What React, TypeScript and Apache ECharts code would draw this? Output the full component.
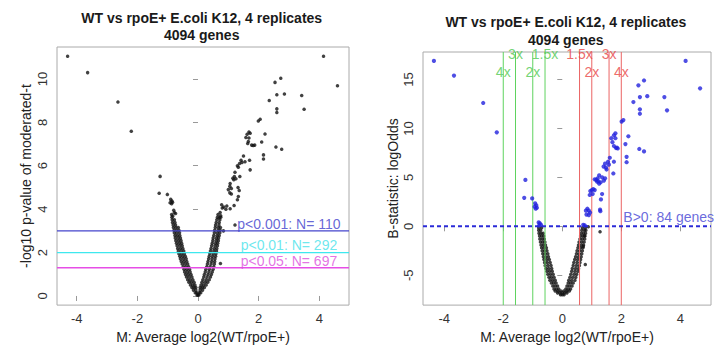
import React, { useEffect, useRef } from "react";
import * as echarts from "echarts";

const FONT = "'Liberation Sans', Arial, Helvetica, sans-serif";

// ---- axis ticks / texts ----
const xTicks = [-4, -2, 0, 2, 4];
const leftYTicks = [0, 2, 4, 6, 8, 10];
const rightYTicks = [-5, 0, 5, 10, 15];
const titleLine1 = "WT vs rpoE+ E.coli K12, 4 replicates";
const titleLine2 = "4094 genes";
const xName = "M: Average log2(WT/rpoE+)";
const leftYName = "-log10 p-value of moderated-t";
const rightYName = "B-statistic: logOdds";

// ---- p-value threshold lines (left panel) ----
const pThresholds = ["0.001", "0.01", "0.05"];
const pCounts = [110, 292, 697];
const pLevels = [3, 2, 1.301];
const pLabelM = 3.0;
const pLabelY = [3.33, 2.33, 1.62];
const pLineColors = ["#4545cc", "#3ee8ee", "#e64ee6"];
const pTextColors = ["#4040cc", "#48e2ea", "#dc50dc"];

// ---- fold-change lines (right panel) ----
const foldLabels = ["1.5x", "2x", "3x", "4x"];
const foldM = [0.585, 1, 1.585, 2];
const foldLabelB = [17.6, 15.8, 17.6, 15.8];
const bPositiveCount = 84;
const bLabelM = 2.07;
const bLabelB = 0.95;

// axis ranges
const leftXRange = [-4.65, 4.98];
const rightXRange = [-4.72, 5.04];
const leftYRange = [-0.42, 11.47];
const rightYRange = [-8.05, 17.81];

// ---- left panel: outlying genes [M, -log10 p] ----
const leftOutliers: number[][] = [
  [-4.3, 11.04], [-3.64, 10.29], [-2.64, 8.94], [-2.2, 7.59], [-1.25, 5.51],
  [-1.28, 4.73], [-1.01, 4.68], [-0.9, 4.45], [-0.86, 4.38], [-0.92, 4.3],
  [-0.87, 4.25], [-0.84, 4.32], [-0.8, 3.95], [-0.78, 3.85], [-0.74, 3.8], [-0.83, 3.68],
  [4.14, 11.04], [4.6, 9.68], [2.73, 10.03], [2.54, 9.84], [2.6, 9.27], [2.85, 9.3],
  [3.42, 9.24], [2.35, 9.01], [2.6, 8.62], [2.6, 8.45], [3.5, 8.6], [1.99, 8.06],
  [2.05, 8.14], [1.68, 7.55], [1.62, 7.45], [1.58, 7.3], [1.68, 7.28], [1.72, 7.5],
  [1.66, 7.12], [1.64, 7.02], [2.21, 7.46], [1.77, 6.95], [1.82, 6.93], [1.87, 6.95],
  [2.1, 7.09], [2.57, 6.86], [2.76, 6.76], [1.5, 6.45], [1.42, 6.25], [1.37, 6.1],
  [1.3, 6.0], [1.33, 5.93], [1.45, 6.15], [1.55, 6.18], [1.7, 6.25], [2.16, 6.5],
  [2.16, 6.31], [1.72, 5.81], [1.2, 5.5], [1.15, 5.42], [1.25, 5.4], [1.18, 5.35],
  [1.22, 5.7], [1.38, 5.5], [1.05, 5.05], [1.0, 4.9], [1.1, 4.95], [1.05, 4.75],
  [1.1, 4.7], [1.06, 5.18], [1.32, 5.0], [1.36, 4.86], [1.33, 4.58], [1.3, 4.43],
  [0.8, 4.05], [0.85, 4.1], [0.92, 4.0], [0.95, 4.15], [0.78, 4.2], [1.19, 4.17],
  [1.06, 4.02], [0.73, 3.85], [0.7, 3.6], [0.75, 3.7], [0.84, 3.0], [1.22, 3.27],
  [0.74, 1.5],
];

// ---- left panel: dense V core, rows of [-log10 p, M values] ----
const leftCoreRows: [number, number[]][] = [
  [0.05, [-0.03, 0, 0.03]],
  [0.15, [-0.09, -0.04, 0.04, 0.09]],
  [0.27, [-0.15, -0.07, 0.07, 0.15]],
  [0.39, [-0.2, -0.13, -0.07, 0.07, 0.14, 0.21]],
  [0.51, [-0.25, -0.17, -0.1, 0.1, 0.18, 0.27]],
  [0.63, [-0.3, -0.22, -0.13, 0.13, 0.23, 0.32]],
  [0.75, [-0.34, -0.26, -0.17, 0.16, 0.27, 0.37]],
  [0.87, [-0.38, -0.29, -0.2, 0.19, 0.3, 0.41]],
  [0.99, [-0.41, -0.32, -0.23, 0.21, 0.33, 0.44]],
  [1.11, [-0.44, -0.35, -0.26, 0.24, 0.36, 0.47]],
  [1.23, [-0.46, -0.37, -0.28, 0.26, 0.38, 0.5]],
  [1.35, [-0.49, -0.4, -0.31, 0.29, 0.4, 0.52]],
  [1.47, [-0.52, -0.43, -0.34, 0.31, 0.43, 0.54]],
  [1.59, [-0.55, -0.46, -0.37, 0.33, 0.45, 0.55]],
  [1.71, [-0.58, -0.48, -0.39, 0.35, 0.46, 0.56]],
  [1.83, [-0.6, -0.51, -0.42, 0.37, 0.48, 0.58]],
  [1.95, [-0.63, -0.54, -0.45, 0.39, 0.5, 0.59]],
  [2.07, [-0.65, -0.56, -0.47, 0.41, 0.52, 0.61]],
  [2.19, [-0.67, -0.58, -0.5, 0.43, 0.54, 0.62]],
  [2.31, [-0.69, -0.6, -0.52, 0.45, 0.56, 0.64]],
  [2.43, [-0.71, -0.62, -0.54, 0.47, 0.58, 0.65]],
  [2.55, [-0.73, -0.64, -0.56, 0.49, 0.6, 0.67]],
  [2.67, [-0.75, -0.66, -0.58, 0.5, 0.61, 0.68]],
  [2.79, [-0.76, -0.68, -0.6, 0.52, 0.63, 0.7]],
  [2.91, [-0.78, -0.7, -0.61, 0.54, 0.64, 0.72]],
  [3.03, [-0.79, -0.71, -0.63, 0.55, 0.66, 0.73]],
  [3.15, [-0.81, -0.73, -0.65, 0.57, 0.67, 0.74]],
  [3.27, [-0.82, -0.74, 0.58, 0.69]],
  [3.39, [-0.84, -0.76, 0.6, 0.7]],
  [3.51, [-0.85, -0.78, 0.62, 0.72]],
  [3.63, [-0.86, 0.64, 0.75]],
  [3.75, [-0.87, 0.66]],
];

// ---- right panel: genes with B > 0 [M, B] ----
const rightBlue: number[][] = [
  [-4.35, 16.9], [-3.67, 15.4], [-2.68, 12.6], [-2.22, 9.6], [-1.25, 4.74],
  [-1.29, 2.91], [-1.02, 2.85], [-0.92, 2.35], [-0.88, 2.15], [-0.94, 2.0],
  [-0.86, 1.9], [-0.9, 1.8], [-0.8, 0.4], [-0.76, 0.3], [-0.72, 0.15], [-0.78, 0.1],
  [4.18, 16.9], [4.67, 14.1], [2.77, 14.9], [2.58, 14.4], [2.63, 13.2], [2.88, 13.3],
  [3.46, 13.2], [2.41, 12.7], [2.63, 11.95], [2.63, 11.5], [3.55, 11.85], [2.07, 10.85],
  [2.01, 10.7], [1.8, 9.5], [1.75, 9.3], [1.66, 9.0], [1.8, 9.0], [1.7, 8.6],
  [1.75, 8.2], [1.82, 8.0], [1.88, 7.95], [1.85, 8.05], [2.24, 9.2], [2.14, 8.4],
  [2.61, 7.9], [2.77, 7.65], [1.61, 7.0], [1.55, 6.6], [1.45, 6.4], [1.4, 6.1],
  [1.48, 6.0], [1.58, 6.3], [1.5, 5.8], [1.75, 6.6], [2.18, 7.1], [2.18, 6.55],
  [1.73, 5.4], [1.25, 5.2], [1.35, 5.0], [1.2, 4.9], [1.3, 4.5], [1.25, 4.35],
  [1.22, 4.6], [1.1, 3.7], [1.05, 3.8], [1.45, 4.9], [1.15, 4.75], [1.18, 4.55],
  [1.41, 4.67], [1.1, 4.8], [0.95, 3.6], [1.0, 3.7], [0.93, 3.2], [1.03, 3.3],
  [1.35, 3.3], [1.31, 2.75], [0.85, 1.8], [0.8, 1.6], [0.9, 1.6], [0.94, 1.4],
  [0.82, 1.2], [0.9, 1.15], [1.28, 1.7], [1.29, 1.55], [0.71, 0.15], [0.76, 0.1],
];

// ---- right panel: other genes outside the core [M, B] ----
const rightBlackExtra: number[][] = [
  [0.88, -0.05], [1.28, -0.56], [0.71, -2.05], [0.78, -3.9], [0.8, -0.4], [0.75, -1.0],
];

// ---- right panel: dense U core, rows of [B, M values] ----
const rightCoreRows: [number, number[]][] = [
  [-7.0, [-0.06, 0, 0.06]],
  [-6.8, [-0.16, -0.08, 0, 0.08, 0.16]],
  [-6.6, [-0.24, -0.15, -0.05, 0.05, 0.15, 0.24]],
  [-6.4, [-0.28, -0.2, -0.12, 0.12, 0.2, 0.28]],
  [-6.1, [-0.32, -0.24, -0.16, 0.16, 0.24, 0.33]],
  [-5.8, [-0.37, -0.29, -0.21, 0.2, 0.28, 0.37]],
  [-5.5, [-0.42, -0.33, -0.24, 0.22, 0.32, 0.43]],
  [-5.2, [-0.45, -0.37, -0.28, 0.26, 0.36, 0.46]],
  [-4.9, [-0.49, -0.4, -0.31, 0.29, 0.4, 0.49]],
  [-4.6, [-0.52, -0.43, -0.34, 0.32, 0.43, 0.53]],
  [-4.3, [-0.55, -0.46, -0.36, 0.34, 0.45, 0.55]],
  [-4.0, [-0.58, -0.48, -0.38, 0.37, 0.48, 0.58]],
  [-3.7, [-0.6, -0.51, -0.41, 0.39, 0.5, 0.6]],
  [-3.4, [-0.62, -0.53, -0.44, 0.42, 0.52, 0.62]],
  [-3.1, [-0.64, -0.56, -0.47, 0.45, 0.55, 0.64]],
  [-2.8, [-0.66, -0.58, -0.49, 0.48, 0.57, 0.66]],
  [-2.5, [-0.68, -0.6, -0.52, 0.5, 0.59, 0.68]],
  [-2.2, [-0.7, -0.62, -0.54, 0.53, 0.62, 0.7]],
  [-1.9, [-0.72, -0.64, -0.57, 0.55, 0.64, 0.72]],
  [-1.6, [-0.74, -0.66, -0.59, 0.57, 0.66, 0.74]],
  [-1.3, [-0.76, -0.68, -0.61, 0.6, 0.68, 0.76]],
  [-1.0, [-0.77, -0.7, -0.63, 0.62, 0.7, 0.77]],
  [-0.7, [-0.79, -0.72, -0.65, 0.64, 0.72, 0.79]],
  [-0.4, [-0.8, -0.73, 0.66, 0.75]],
  [-0.15, [-0.8, -0.7, 0.68, 0.78]],
];

const GREEN_LINE = "#5fd35f";
const RED_LINE = "#eb6464";
const GREEN_TEXT = "#4fc94f";
const RED_TEXT = "#e84444";
const BLUE_PT = "#2222dd";
const BLUE_TEXT = "#4444d4";

function flattenRows(rows: [number, number[]][]): number[][] {
  const out: number[][] = [];
  rows.forEach(([y, ms]) => ms.forEach((m) => out.push([m, y])));
  return out;
}

function mkX(gridIndex: number, range: number[]) {
  return {
    type: "value",
    gridIndex,
    min: range[0],
    max: range[1],
    axisLine: { show: false },
    splitLine: { show: false },
    axisTick: { show: true, length: 5, inside: false, customValues: xTicks, lineStyle: { color: "#999" } },
    axisLabel: { customValues: xTicks, margin: 7, fontSize: 13, color: "#333", fontFamily: FONT },
    name: xName,
    nameLocation: "middle",
    nameGap: 22,
    nameTextStyle: { fontSize: 14, color: "#222", fontFamily: FONT },
  };
}

function mkY(gridIndex: number, range: number[], ticks: number[], name: string, gap: number) {
  return {
    type: "value",
    gridIndex,
    min: range[0],
    max: range[1],
    axisLine: { show: false },
    splitLine: { show: false },
    axisTick: { show: true, length: 5, inside: false, customValues: ticks, lineStyle: { color: "#999" } },
    axisLabel: { customValues: ticks, margin: 8, fontSize: 13, color: "#333", rotate: 90, fontFamily: FONT },
    name,
    nameLocation: "middle",
    nameGap: gap,
    nameTextStyle: { fontSize: 14, color: "#222", fontFamily: FONT },
  };
}

function titleText(x: number, y1: number, y2: number) {
  const style = (text: string) => ({
    text,
    fontSize: 14,
    fontWeight: "bold",
    fontFamily: FONT,
    fill: "#1a1a1a",
    align: "center",
    verticalAlign: "middle",
  });
  return [
    { type: "text", x, y: y1, style: style(titleLine1) },
    { type: "text", x, y: y2, style: style(titleLine2) },
  ];
}

// straight reference line drawn as a 2-point line series across the plot range
function refLine(ai: number, points: number[][], color: string, width: number, type: any) {
  return {
    type: "line",
    xAxisIndex: ai,
    yAxisIndex: ai,
    data: points,
    showSymbol: false,
    symbol: "none",
    silent: true,
    z: 5,
    clip: true,
    lineStyle: { color, width, type },
    itemStyle: { color },
  };
}

export default function App() {
  const ref = useRef<HTMLDivElement>(null);
  useEffect(() => {
    if (!ref.current) return;
    const chart = echarts.init(ref.current, undefined, { renderer: "svg" });

    const leftBlack = [...flattenRows(leftCoreRows), ...leftOutliers];
    const rightBlack = [...flattenRows(rightCoreRows), ...rightBlackExtra];

    const foldLabelData: any[] = [];
    foldM.forEach((m, i) => {
      foldLabelData.push({ value: [-m, foldLabelB[i]], label: { formatter: foldLabels[i], color: GREEN_TEXT } });
      foldLabelData.push({ value: [m, foldLabelB[i]], label: { formatter: foldLabels[i], color: RED_TEXT } });
    });

    const foldLines: any[] = [];
    foldM.forEach((m) => {
      foldLines.push(refLine(1, [[-m, rightYRange[0]], [-m, rightYRange[1]]], GREEN_LINE, 1, "solid"));
      foldLines.push(refLine(1, [[m, rightYRange[0]], [m, rightYRange[1]]], RED_LINE, 1, "solid"));
    });

    const option: any = {
      animation: false,
      backgroundColor: "#ffffff",
      textStyle: { fontFamily: FONT },
      grid: [
        { left: 57, top: 47, width: 292, height: 264, show: true, borderColor: "#aaa", borderWidth: 1, backgroundColor: "transparent" },
        { left: 423, top: 52, width: 288, height: 260, show: true, borderColor: "#aaa", borderWidth: 1, backgroundColor: "transparent" },
      ],
      xAxis: [mkX(0, leftXRange), mkX(1, rightXRange)],
      yAxis: [
        mkY(0, leftYRange, leftYTicks, leftYName, 24),
        mkY(1, rightYRange, rightYTicks, rightYName, 23),
      ],
      graphic: [...titleText(201.7, 18, 35), ...titleText(565.8, 22, 39.5)],
      series: [
        {
          type: "scatter",
          xAxisIndex: 0,
          yAxisIndex: 0,
          z: 2,
          symbolSize: 3.5,
          itemStyle: { color: "#111" },
          silent: true,
          data: leftBlack,
        },
        ...pLevels.map((v, i) =>
          refLine(0, [[leftXRange[0], v], [leftXRange[1], v]], pLineColors[i], 1.3, "solid")
        ),
        {
          type: "scatter",
          xAxisIndex: 0,
          yAxisIndex: 0,
          z: 11,
          symbolSize: 0,
          silent: true,
          label: { show: true, position: "inside", fontSize: 14, fontFamily: FONT },
          data: pLevels.map((_, i) => ({
            value: [pLabelM, pLabelY[i]],
            label: { formatter: `p<${pThresholds[i]}: N= ${pCounts[i]}`, color: pTextColors[i] },
          })),
        },
        {
          type: "scatter",
          xAxisIndex: 1,
          yAxisIndex: 1,
          z: 2,
          symbolSize: 3.5,
          itemStyle: { color: "#111" },
          silent: true,
          data: rightBlack,
        },
        ...foldLines,
        refLine(1, [[rightXRange[0], 0], [rightXRange[1], 0]], "#2b2bd8", 2, [4, 3]),
        {
          type: "scatter",
          xAxisIndex: 1,
          yAxisIndex: 1,
          z: 10,
          symbolSize: 4.2,
          itemStyle: { color: BLUE_PT },
          silent: true,
          data: rightBlue,
        },
        {
          type: "scatter",
          xAxisIndex: 1,
          yAxisIndex: 1,
          z: 11,
          symbolSize: 0,
          silent: true,
          label: { show: true, position: "inside", fontSize: 14, fontFamily: FONT },
          data: [
            ...foldLabelData,
            {
              value: [bLabelM, bLabelB],
              label: { formatter: `B>0: ${bPositiveCount} genes`, color: BLUE_TEXT, align: "left" },
            },
          ],
        },
      ],
    };
    chart.setOption(option);
    return () => chart.dispose();
  }, []);
  return <div ref={ref} style={{ position: "fixed", left: 0, top: 0, width: 715, height: 349 }} />;
}
